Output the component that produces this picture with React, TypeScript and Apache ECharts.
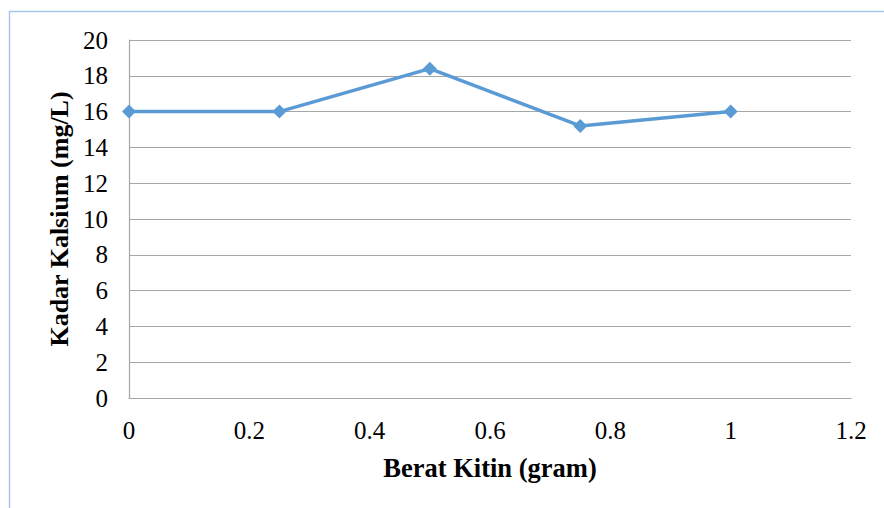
import React, { useEffect, useRef } from "react";
import * as echarts from "echarts";

const xValues = [0, 0.25, 0.5, 0.75, 1];
const yValues = [16, 16, 18.4, 15.2, 16];
const xAxisName = "Berat Kitin (gram)";
const yAxisName = "Kadar Kalsium (mg/L)";

export default function App() {
  const ref = useRef<HTMLDivElement>(null);
  useEffect(() => {
    document.body.style.margin = "0";
    const chart = echarts.init(ref.current!, null, { renderer: "svg" });
    const font = "Liberation Serif";
    chart.setOption({
      animation: false,
      backgroundColor: "#ffffff",
      textStyle: { fontFamily: font },
      graphic: [
        {
          type: "rect",
          shape: { x: 9.5, y: 11.5, width: 900, height: 600 },
          style: { fill: "none", stroke: "#a7c5ee", lineWidth: 1.5 },
          silent: true,
        },
      ],
      grid: { left: 129, right: 33, top: 40, bottom: 110 },
      xAxis: {
        type: "value",
        min: 0,
        max: 1.2,
        interval: 0.2,
        name: xAxisName,
        nameLocation: "middle",
        nameGap: 56,
        nameTextStyle: { fontFamily: font, fontSize: 26.5, fontWeight: "bold", color: "#000" },
        axisLine: { show: true, lineStyle: { color: "#a6a6a6", width: 1.2 } },
        axisTick: { show: false },
        splitLine: { show: false },
        axisLabel: {
          fontFamily: font,
          fontSize: 25,
          color: "#000",
          margin: 20,
          formatter: (v: number) => String(Math.round(v * 10) / 10),
        },
      },
      yAxis: {
        type: "value",
        min: 0,
        max: 20,
        interval: 2,
        name: yAxisName,
        nameLocation: "middle",
        nameGap: 56,
        nameRotate: 90,
        nameTextStyle: { fontFamily: font, fontSize: 26, fontWeight: "bold", color: "#000" },
        axisLine: { show: true, lineStyle: { color: "#a6a6a6", width: 1.2 } },
        axisTick: { show: false },
        splitLine: { show: true, lineStyle: { color: "#a6a6a6", width: 1.2 } },
        axisLabel: { fontFamily: font, fontSize: 25, color: "#000", margin: 21 },
      },
      series: [
        {
          type: "line",
          data: xValues.map((x, i) => [x, yValues[i]]),
          symbol: "diamond",
          symbolSize: 14,
          lineStyle: { color: "#5b9bd5", width: 3.5 },
          itemStyle: { color: "#5b9bd5" },
        },
      ],
    });
    return () => chart.dispose();
  }, []);
  return <div ref={ref} style={{ width: 884, height: 508 }} />;
}
